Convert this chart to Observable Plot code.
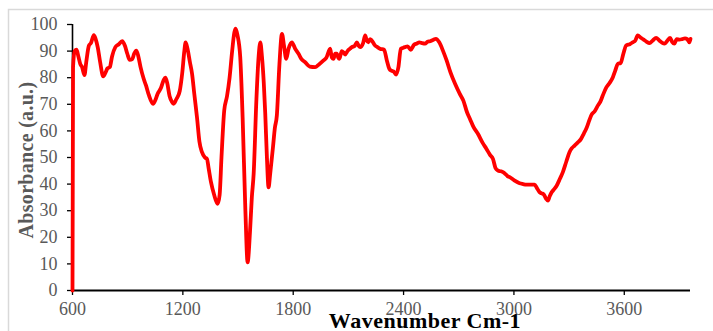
<!DOCTYPE html>
<html>
<head>
<meta charset="utf-8">
<script src="https://cdn.jsdelivr.net/npm/d3@7"></script>
<script src="https://cdn.jsdelivr.net/npm/@observablehq/plot@0.6"></script>
<style>
  html, body { margin: 0; padding: 0; background: #fff; }
  #chart { position: relative; width: 713px; height: 331px; overflow: hidden; }
  #chart svg text { font-family: "Liberation Serif", "Times New Roman", serif !important; font-variant-numeric: normal !important; }
</style>
</head>
<body>
<div id="chart"></div>
<script>
const wavenumber = [600,603,612,622,632,643,652,665,675,689,700,716,726,737,750,767,780,790,803,815,833,850,870,885,898,911,925,935,947,958,970,987,1000,1015,1038,1050,1063,1080,1095,1105,1115,1128,1140,1150,1165,1183,1197,1208,1215,1225,1238,1250,1262,1277,1290,1304,1320,1331,1340,1353,1370,1389,1400,1410,1425,1440,1454,1468,1480,1487,1497,1512,1525,1540,1552,1565,1575,1585,1600,1612,1621,1630,1640,1648,1657,1666,1675,1690,1700,1711,1725,1739,1750,1762,1775,1793,1810,1829,1845,1865,1890,1919,1940,1965,1980,2001,2010,2019,2028,2037,2045,2051,2064,2073,2082,2095,2109,2119,2135,2146,2156,2164,2180,2191,2200,2209,2218,2227,2245,2258,2272,2294,2309,2323,2335,2345,2359,2372,2385,2396,2408,2422,2439,2457,2470,2486,2500,2517,2530,2544,2560,2576,2594,2615,2634,2655,2680,2705,2725,2745,2761,2780,2804,2830,2850,2870,2886,2900,2913,2930,2949,2965,2977,3000,3031,3050,3067,3090,3112,3125,3139,3150,3161,3175,3185,3195,3206,3220,3233,3250,3266,3285,3302,3315,3330,3345,3365,3380,3393,3405,3420,3440,3456,3470,3483,3501,3520,3538,3550,3565,3580,3595,3610,3630,3646,3660,3673,3690,3705,3720,3737,3755,3773,3790,3805,3818,3835,3849,3860,3872,3885,3900,3915,3930,3942,3954,3960];
const absorbance = [0,84,90,90.5,88,85,84,81,86,92,93,96,94.5,91.5,86,80.5,82,83.5,84,88,91.5,92.5,93.7,92,89,86.7,87,89,90.2,88,84,79.6,77,73.5,70.2,71.5,74,76,79,80,78,73,71,70.2,72,75,82,90,93.3,91,86,81.5,74,65,56,52,50,49.5,46,40.7,36,32.6,36,50,67.7,73,80,90,97,98.4,96,87.7,65,30,10.6,22,35,43.9,72,88,93.3,88,78,66.4,50,38.8,44,53.9,61,65.8,85,96.5,92,87.1,91,93.3,91,89,87,85.8,84.2,84,85,86.5,87.5,90.9,87.6,87.1,89,89,87.5,87.1,90,89.5,88.7,90,90.9,91.5,92,93.3,92,91.5,93,95.9,94,93.3,94.5,94,92.1,91.5,90.9,90.5,86.5,83.3,82.6,82.4,81.2,84,90.9,91.2,91.5,91.8,90.5,92.4,92.8,93.3,93,92.8,93.5,93.7,94.2,94.6,93.3,90,86.5,82,77.7,74,71.4,67,64.5,61.5,58.9,55.5,53.3,51,49.5,46,45.1,44.8,44.1,43,42.6,41.5,40.3,40,39.8,39.8,39.8,38.5,37,36.5,36.2,34.5,33.8,35.5,37,38.2,39.5,42,44.5,48.5,52,53.5,54.5,55.5,57,59,60.8,63,65.8,67.5,69.5,71,73.3,76.2,78,80.2,82.5,85.2,85.5,89,92.1,92.6,93.3,94,95.9,95,94.3,93.6,93,94,95,94,93.2,92.8,94,95,93.5,92.8,94.5,94.3,94.5,94.8,94.5,93.3,94.6];
const xTicks = [600, 1200, 1800, 2400, 3000, 3600];
const yTicks = [0, 10, 20, 30, 40, 50, 60, 70, 80, 90, 100];
const xTitle = "Wavenumber Cm-1";
const yTitle = "Absorbance (a.u.)";

const data = wavenumber.map((w, i) => ({w, a: absorbance[i]}));
const SERIF = "'Liberation Serif', 'Times New Roman', serif";

const chart = Plot.plot({
  width: 713,
  height: 331,
  marginLeft: 72,
  marginRight: 23,
  marginTop: 24,
  marginBottom: 41,
  style: {background: "transparent", overflow: "visible"},
  x: {domain: [600, 3960], ticks: xTicks, tickFormat: d => String(d)},
  y: {domain: [0, 100], ticks: yTicks, tickFormat: d => String(d)},
  marks: [
    Plot.axisY({ticks: yTicks, tickSize: 5, tickPadding: 10, fontSize: 18, fontFamily: SERIF, color: "#595959", stroke: "#000", strokeWidth: 1.3, label: null, tickFormat: d => String(d)}),
    Plot.axisX({ticks: xTicks, tickSize: 5, tickPadding: 7, fontSize: 18, fontFamily: SERIF, color: "#595959", stroke: "#000", strokeWidth: 1.3, label: null, tickFormat: d => String(d)}),
    Plot.ruleX([600], {stroke: "#000", strokeWidth: 1.6}),
    Plot.ruleY([0], {stroke: "#000", strokeWidth: 2}),
    Plot.line(data, {x: "w", y: "a", stroke: "#ff0000", strokeWidth: 3.8, curve: "monotone-x", strokeLinejoin: "round"})
  ]
});

const svg = d3.select(chart);
svg.insert("rect", ":first-child")
  .attr("x", 8.5).attr("y", 9.5).attr("width", 720).attr("height", 340)
  .attr("fill", "#fff").attr("stroke", "#d9d9d9").attr("stroke-width", 1.5);
svg.selectAll("[aria-label='y-axis tick label'] text, [aria-label='x-axis tick label'] text")
  .attr("fill", "#595959");
svg.append("text")
  .attr("transform", "translate(33,160) rotate(-90)")
  .attr("text-anchor", "middle")
  .attr("font-weight", "bold")
  .attr("font-size", 20)
  .attr("fill", "#595959")
  .attr("letter-spacing", 0.3)
  .text(yTitle);
svg.append("text")
  .attr("x", 425).attr("y", 328)
  .attr("text-anchor", "middle")
  .attr("font-weight", "bold")
  .attr("font-size", 22)
  .attr("fill", "#000")
  .attr("letter-spacing", 0.5)
  .text(xTitle);

document.getElementById("chart").appendChild(chart);
</script>
</body>
</html>
